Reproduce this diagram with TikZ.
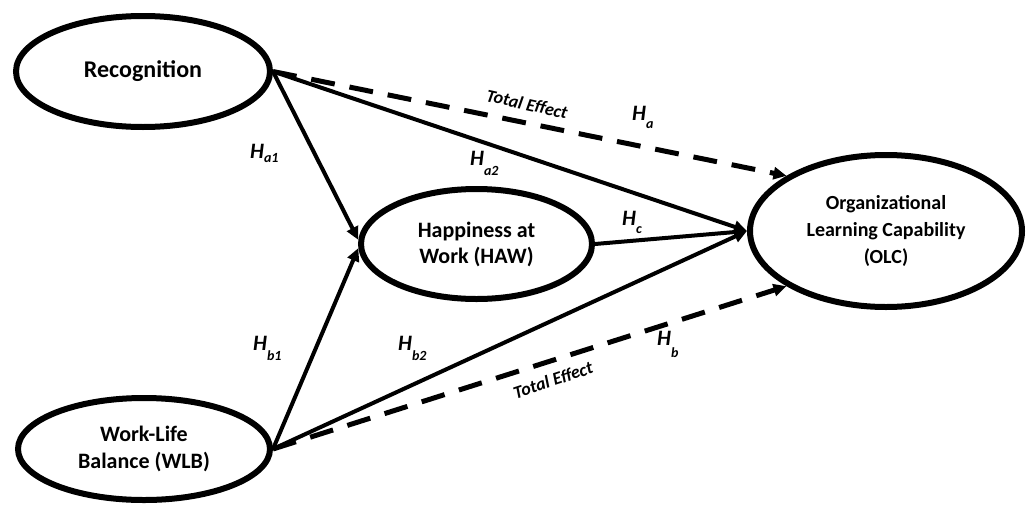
\documentclass[tikz,border=0pt]{standalone}
\usepackage{fontspec}
\setmainfont{Carlito}
\usetikzlibrary{shapes.geometric,arrows.meta}
\newcommand\hyplab[2]{\textit{H}\raisebox{-#2}{\fontsize{14}{14}\selectfont #1}}
\begin{document}
\begin{tikzpicture}[x=1pt,y=-1pt,
  construct/.style={ellipse, draw, line width=6pt, align=center, inner sep=0pt,
    font=\fontsize{22}{27}\selectfont\bfseries},
  pathedge/.style={line width=4pt, -{Triangle[length=13pt,width=12pt]}},
  totaledge/.style={line width=5pt, dash pattern=on 24pt off 15pt, -{Triangle[length=13pt,width=12pt]}},
  hlab/.style={font=\fontsize{22}{22}\selectfont\bfseries\itshape, inner sep=0pt, anchor=base west},
  tlab/.style={font=\fontsize{18}{18}\selectfont\bfseries\itshape, inner sep=0pt}
]
\useasboundingbox (0,0) rectangle (1027,506);

\node[construct, minimum width=254pt, minimum height=111pt, font=\fontsize{24}{27}\selectfont\bfseries] (rec) at (143,71.5) {Recognition};
\node[construct, minimum width=231pt, minimum height=110pt, font=\fontsize{22}{26}\selectfont\bfseries] (haw) at (476.5,244) {Happiness at\\Work (HAW)};
\node[construct, minimum width=272pt, minimum height=152pt, font=\fontsize{20}{27}\selectfont\bfseries] (olc) at (886,231) {Organizational\\Learning Capability\\(OLC)};
\node[construct, minimum width=252pt, minimum height=102pt] (wlb) at (144,449) {Work-Life\\Balance (WLB)};

\draw[totaledge] (rec.east) -- (olc.151);
\draw[totaledge] (wlb.east) -- (olc.209);
\draw[pathedge] (rec.east) -- (haw.178);
\draw[pathedge] (wlb.east) -- (haw.182);
\draw[pathedge] (rec.east) -- (olc.west);
\draw[pathedge] (haw.east) -- (olc.west);
\draw[pathedge] (wlb.east) -- (olc.west);

\node[tlab, rotate=-12.5] (te1) at (527,104) {Total Effect};
\node[tlab, rotate=18.5] (te2) at (553,380) {Total Effect};

\node[hlab] (ha1) at (250,158.5) {\hyplab{a1}{3.5pt}};
\node[hlab] (ha2) at (470,165) {\hyplab{a2}{10pt}};
\node[hlab] (ha) at (632,120) {\hyplab{a}{8pt}};
\node[hlab] (hc) at (622,225) {\hyplab{c}{8pt}};
\node[hlab] (hb1) at (253,350) {\hyplab{b1}{10pt}};
\node[hlab] (hb2) at (398,350) {\hyplab{b2}{10pt}};
\node[hlab] (hb) at (657,345) {\hyplab{b}{12pt}};
\end{tikzpicture}
\end{document}
